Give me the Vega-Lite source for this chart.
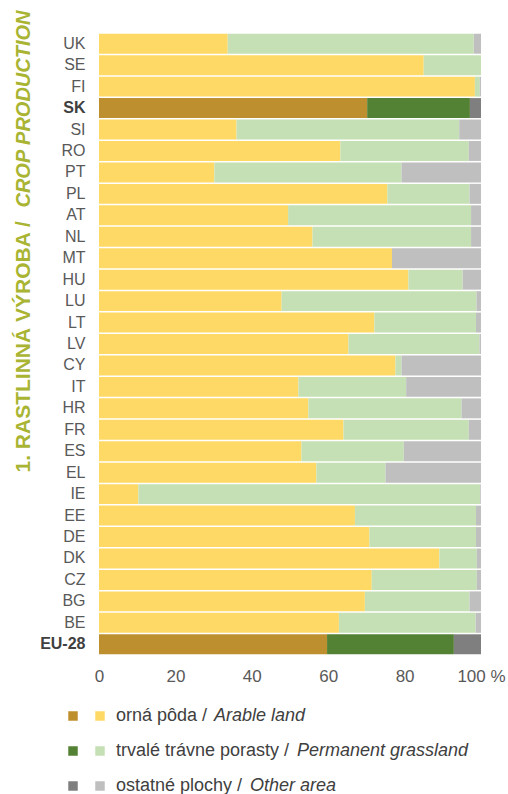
{
  "$schema": "https://vega.github.io/schema/vega-lite/v6.json",
  "background": "white",
  "padding": {"left": 11, "top": 10, "right": 0, "bottom": 0},
  "bounds": "flush",
  "spacing": 61,
  "config": {"view": {"stroke": null}, "font": "Liberation Sans"},
  "datasets": {
    "land": [
      {"country": "UK", "type": "Arable land", "share": 33.7},
      {"country": "UK", "type": "Permanent grassland", "share": 64.4},
      {"country": "UK", "type": "Other area", "share": 1.9},
      {"country": "SE", "type": "Arable land", "share": 85.0},
      {"country": "SE", "type": "Permanent grassland", "share": 15.0},
      {"country": "SE", "type": "Other area", "share": 0.0},
      {"country": "FI", "type": "Arable land", "share": 98.4},
      {"country": "FI", "type": "Permanent grassland", "share": 1.3},
      {"country": "FI", "type": "Other area", "share": 0.3},
      {"country": "SK", "type": "Arable land", "share": 70.2},
      {"country": "SK", "type": "Permanent grassland", "share": 26.9},
      {"country": "SK", "type": "Other area", "share": 2.9},
      {"country": "SI", "type": "Arable land", "share": 36.0},
      {"country": "SI", "type": "Permanent grassland", "share": 58.3},
      {"country": "SI", "type": "Other area", "share": 5.7},
      {"country": "RO", "type": "Arable land", "share": 63.2},
      {"country": "RO", "type": "Permanent grassland", "share": 33.6},
      {"country": "RO", "type": "Other area", "share": 3.2},
      {"country": "PT", "type": "Arable land", "share": 30.2},
      {"country": "PT", "type": "Permanent grassland", "share": 49.0},
      {"country": "PT", "type": "Other area", "share": 20.8},
      {"country": "PL", "type": "Arable land", "share": 75.5},
      {"country": "PL", "type": "Permanent grassland", "share": 21.5},
      {"country": "PL", "type": "Other area", "share": 3.0},
      {"country": "AT", "type": "Arable land", "share": 49.5},
      {"country": "AT", "type": "Permanent grassland", "share": 47.9},
      {"country": "AT", "type": "Other area", "share": 2.6},
      {"country": "NL", "type": "Arable land", "share": 55.9},
      {"country": "NL", "type": "Permanent grassland", "share": 41.5},
      {"country": "NL", "type": "Other area", "share": 2.6},
      {"country": "MT", "type": "Arable land", "share": 76.7},
      {"country": "MT", "type": "Permanent grassland", "share": 0.0},
      {"country": "MT", "type": "Other area", "share": 23.3},
      {"country": "HU", "type": "Arable land", "share": 81.0},
      {"country": "HU", "type": "Permanent grassland", "share": 14.2},
      {"country": "HU", "type": "Other area", "share": 4.8},
      {"country": "LU", "type": "Arable land", "share": 47.8},
      {"country": "LU", "type": "Permanent grassland", "share": 51.0},
      {"country": "LU", "type": "Other area", "share": 1.2},
      {"country": "LT", "type": "Arable land", "share": 72.1},
      {"country": "LT", "type": "Permanent grassland", "share": 26.6},
      {"country": "LT", "type": "Other area", "share": 1.3},
      {"country": "LV", "type": "Arable land", "share": 65.3},
      {"country": "LV", "type": "Permanent grassland", "share": 34.3},
      {"country": "LV", "type": "Other area", "share": 0.4},
      {"country": "CY", "type": "Arable land", "share": 77.6},
      {"country": "CY", "type": "Permanent grassland", "share": 1.6},
      {"country": "CY", "type": "Other area", "share": 20.8},
      {"country": "IT", "type": "Arable land", "share": 52.2},
      {"country": "IT", "type": "Permanent grassland", "share": 28.2},
      {"country": "IT", "type": "Other area", "share": 19.6},
      {"country": "HR", "type": "Arable land", "share": 54.8},
      {"country": "HR", "type": "Permanent grassland", "share": 40.1},
      {"country": "HR", "type": "Other area", "share": 5.1},
      {"country": "FR", "type": "Arable land", "share": 64.0},
      {"country": "FR", "type": "Permanent grassland", "share": 32.8},
      {"country": "FR", "type": "Other area", "share": 3.2},
      {"country": "ES", "type": "Arable land", "share": 53.0},
      {"country": "ES", "type": "Permanent grassland", "share": 26.8},
      {"country": "ES", "type": "Other area", "share": 20.2},
      {"country": "EL", "type": "Arable land", "share": 56.9},
      {"country": "EL", "type": "Permanent grassland", "share": 18.1},
      {"country": "EL", "type": "Other area", "share": 25.0},
      {"country": "IE", "type": "Arable land", "share": 10.3},
      {"country": "IE", "type": "Permanent grassland", "share": 89.5},
      {"country": "IE", "type": "Other area", "share": 0.2},
      {"country": "EE", "type": "Arable land", "share": 67.0},
      {"country": "EE", "type": "Permanent grassland", "share": 31.7},
      {"country": "EE", "type": "Other area", "share": 1.3},
      {"country": "DE", "type": "Arable land", "share": 70.8},
      {"country": "DE", "type": "Permanent grassland", "share": 27.9},
      {"country": "DE", "type": "Other area", "share": 1.3},
      {"country": "DK", "type": "Arable land", "share": 89.1},
      {"country": "DK", "type": "Permanent grassland", "share": 9.8},
      {"country": "DK", "type": "Other area", "share": 1.1},
      {"country": "CZ", "type": "Arable land", "share": 71.4},
      {"country": "CZ", "type": "Permanent grassland", "share": 27.5},
      {"country": "CZ", "type": "Other area", "share": 1.1},
      {"country": "BG", "type": "Arable land", "share": 69.6},
      {"country": "BG", "type": "Permanent grassland", "share": 27.4},
      {"country": "BG", "type": "Other area", "share": 3.0},
      {"country": "BE", "type": "Arable land", "share": 62.8},
      {"country": "BE", "type": "Permanent grassland", "share": 35.8},
      {"country": "BE", "type": "Other area", "share": 1.4},
      {"country": "EU-28", "type": "Arable land", "share": 59.7},
      {"country": "EU-28", "type": "Permanent grassland", "share": 33.2},
      {"country": "EU-28", "type": "Other area", "share": 7.1}
    ],
    "legend": [
      {"type": "Arable land", "sk": "orná pôda /", "en": "Arable land"},
      {"type": "Permanent grassland", "sk": "trvalé trávne porasty /", "en": "Permanent grassland"},
      {"type": "Other area", "sk": "ostatné plochy /", "en": "Other area"}
    ]
  },
  "vconcat": [
    {
      "width": 382,
      "height": 622,
      "data": {"name": "land"},
      "transform": [
        {"calculate": "(datum.country === 'SK' || datum.country === 'EU-28') ? datum.type + ' (SK, EU-28)' : datum.type", "as": "key"},
        {"calculate": "indexof(['Arable land', 'Permanent grassland', 'Other area'], datum.type)", "as": "ord"}
      ],
      "layer": [
        {
          "mark": {"type": "bar"},
          "encoding": {
            "y": {
              "field": "country", "type": "nominal",
              "sort": ["UK","SE","FI","SK","SI","RO","PT","PL","AT","NL","MT","HU","LU","LT","LV","CY","IT","HR","FR","ES","EL","IE","EE","DE","DK","CZ","BG","BE","EU-28"],
              "scale": {"paddingInner": 0.07, "paddingOuter": 0.035},
              "axis": {
                "domain": false, "ticks": false, "grid": false,
                "labelFontSize": 16, "labelPadding": 14,
                "labelColor": {"condition": {"test": "datum.value === 'SK' || datum.value === 'EU-28'", "value": "#404040"}, "value": "#595959"},
                "labelFontWeight": {"condition": {"test": "datum.value === 'SK' || datum.value === 'EU-28'", "value": "bold"}, "value": "normal"},
                "title": "1. RASTLINNÁ VÝROBA /",
                "titleFontSize": 21, "titleFontWeight": "bold", "titleColor": "#A9B432",
                "titleAngle": 270, "titleAlign": "left", "titleBaseline": "alphabetic",
                "titleX": -70, "titleY": 439
              }
            },
            "x": {
              "field": "share", "type": "quantitative", "stack": "zero",
              "scale": {"domain": [0, 100]},
              "axis": {
                "values": [0, 20, 40, 60, 80, 100],
                "labelExpr": "datum.value === 100 ? '100 %' : datum.label",
                "domain": false, "ticks": false, "grid": false,
                "labelFontSize": 17, "labelColor": "#595959", "labelPadding": 13,
                "labelFlush": false, "title": null
              }
            },
            "color": {
              "field": "key", "type": "nominal",
              "scale": {
                "domain": ["Arable land", "Permanent grassland", "Other area", "Arable land (SK, EU-28)", "Permanent grassland (SK, EU-28)", "Other area (SK, EU-28)"],
                "range": ["#FFD966", "#C5E0B4", "#BFBFBF", "#BD8F2F", "#548235", "#7F7F7F"]
              },
              "legend": null
            },
            "order": {"field": "ord", "type": "quantitative"}
          }
        },
        {
          "mark": {"type": "point", "opacity": 0},
          "encoding": {
            "y": {
              "field": "country", "type": "nominal",
              "sort": ["UK","SE","FI","SK","SI","RO","PT","PL","AT","NL","MT","HU","LU","LT","LV","CY","IT","HR","FR","ES","EL","IE","EE","DE","DK","CZ","BG","BE","EU-28"],
              "axis": {
                "orient": "left", "labels": false, "ticks": false, "domain": false, "grid": false,
                "title": "CROP PRODUCTION",
                "titleFontSize": 20, "titleFontWeight": "bold", "titleFontStyle": "italic", "titleColor": "#A9B432",
                "titleAngle": 270, "titleAlign": "right", "titleBaseline": "alphabetic",
                "titleX": -70, "titleY": -23
              }
            }
          }
        }
      ],
      "resolve": {"axis": {"y": "independent"}}
    },
    {
      "width": 382,
      "height": 70,
      "data": {"name": "legend"},
      "encoding": {
        "y": {"field": "type", "type": "nominal", "sort": ["Arable land", "Permanent grassland", "Other area"], "scale": {"type": "point", "padding": 0}, "axis": null}
      },
      "layer": [
        {
          "transform": [{"calculate": "datum.type + ' (SK, EU-28)'", "as": "key"}],
          "mark": {"type": "square", "size": 90, "opacity": 1, "filled": true},
          "encoding": {
            "x": {"datum": "dark", "type": "nominal", "scale": {"type": "point", "domain": ["dark", "light"], "range": [-26, 1], "padding": 0}, "axis": null},
            "color": {"field": "key", "type": "nominal", "legend": null}
          }
        },
        {
          "mark": {"type": "square", "size": 90, "opacity": 1, "filled": true},
          "encoding": {
            "x": {"datum": "light", "type": "nominal", "axis": null},
            "color": {"field": "type", "type": "nominal", "legend": null}
          }
        },
        {
          "mark": {"type": "text", "align": "left", "baseline": "middle", "dx": 16, "fontSize": 18, "color": "#404040"},
          "encoding": {
            "x": {"datum": "light", "type": "nominal", "axis": null},
            "text": {"field": "sk"}
          }
        },
        {
          "transform": [{"filter": "datum.type === 'Arable land'"}],
          "mark": {"type": "text", "align": "left", "baseline": "middle", "dx": 114, "fontSize": 18, "fontStyle": "italic", "color": "#404040"},
          "encoding": {
            "x": {"datum": "light", "type": "nominal", "axis": null},
            "text": {"field": "en"}
          }
        },
        {
          "transform": [{"filter": "datum.type === 'Permanent grassland'"}],
          "mark": {"type": "text", "align": "left", "baseline": "middle", "dx": 197, "fontSize": 18, "fontStyle": "italic", "color": "#404040"},
          "encoding": {
            "x": {"datum": "light", "type": "nominal", "axis": null},
            "text": {"field": "en"}
          }
        },
        {
          "transform": [{"filter": "datum.type === 'Other area'"}],
          "mark": {"type": "text", "align": "left", "baseline": "middle", "dx": 150, "fontSize": 18, "fontStyle": "italic", "color": "#404040"},
          "encoding": {
            "x": {"datum": "light", "type": "nominal", "axis": null},
            "text": {"field": "en"}
          }
        }
      ]
    }
  ]
}
